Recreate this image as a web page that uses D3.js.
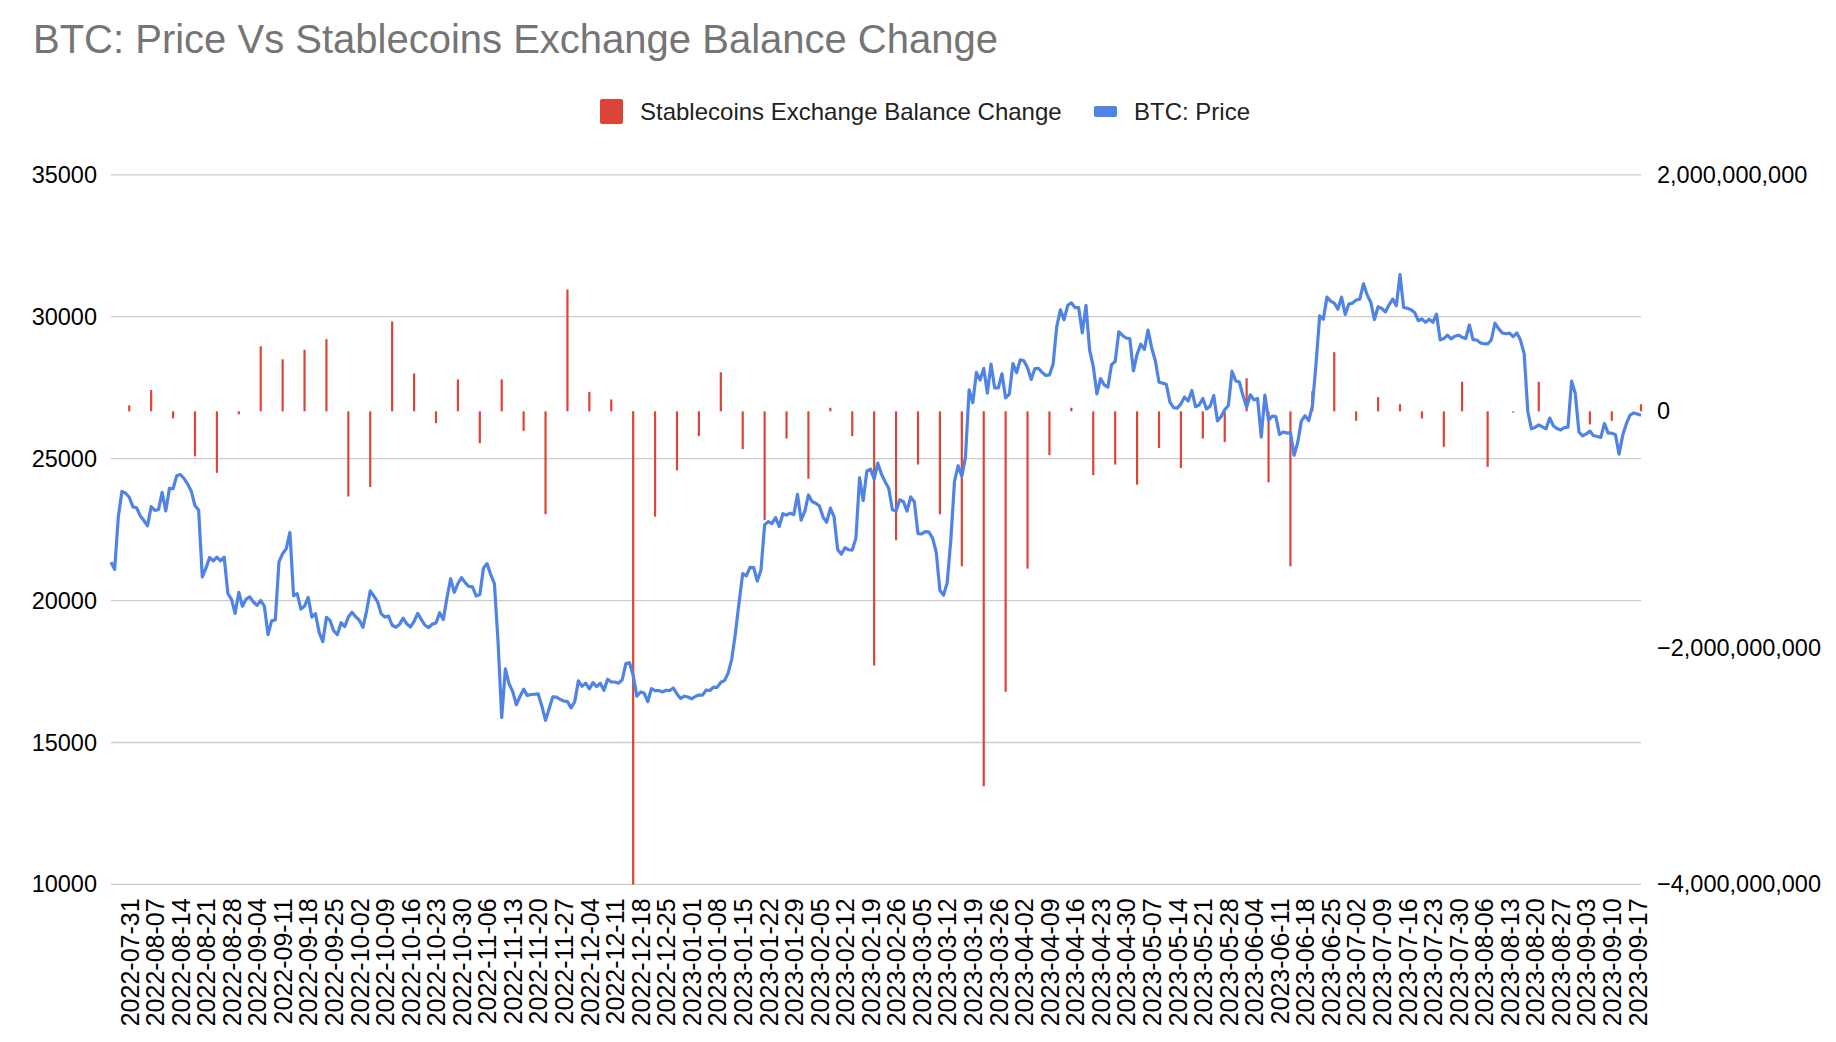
<!DOCTYPE html>
<html><head><meta charset="utf-8">
<script src="https://cdn.jsdelivr.net/npm/d3@7"></script>
<style>body{margin:0;background:#fff;font-family:"Liberation Sans",Arial,sans-serif}</style>
</head><body><svg id="c" width="1836" height="1042"></svg>
<script>
const priceStart = "2022-07-26";
const prices = [21350,21100,22950,23850,23780,23640,23300,23270,22990,22820,22630,23310,23180,23200,23810,23160,23950,23940,24400,24440,24300,24100,23850,23340,23190,20830,21140,21520,21400,21530,21400,21530,20250,20040,19550,20290,19800,20050,20130,19950,19830,20000,19800,18800,19290,19320,21360,21650,21830,22400,20170,20240,19700,19800,20110,19420,19540,18880,18550,19410,19300,18930,18800,19220,19080,19420,19590,19430,19310,19060,19630,20340,20160,19960,19530,19420,19450,19130,19060,19160,19380,19180,19070,19270,19550,19330,19130,19050,19170,19210,19570,19330,20090,20770,20290,20600,20810,20630,20500,20480,20160,20210,21150,21300,20910,20600,18540,15880,17590,17070,16800,16330,16620,16880,16660,16690,16700,16710,16280,15780,16200,16610,16600,16520,16460,16440,16220,16440,17170,16980,17090,16890,17110,16970,17090,16840,17230,17130,17130,17090,17210,17780,17810,17360,16630,16780,16740,16440,16900,16830,16830,16780,16840,16830,16920,16710,16550,16630,16600,16540,16620,16670,16670,16850,16830,16950,16940,17120,17180,17440,17940,18850,19930,20950,20870,21170,21160,20690,21080,22670,22780,22710,22920,22610,23060,23010,23080,23030,23740,22830,23140,23720,23490,23430,23330,22940,22760,23260,22960,21800,21630,21860,21790,21780,22200,24330,23520,24570,24630,24280,24840,24450,24190,23950,23200,23160,23550,23490,23150,23650,23480,22360,22350,22430,22410,22200,21700,20360,20190,20630,22160,24200,24750,24380,25050,27420,26970,28040,27770,28180,27310,28330,27490,27490,27990,27140,27270,28350,28030,28480,28450,28200,27790,28170,28180,28040,27930,27950,28330,29650,30240,29890,30400,30490,30320,30320,29430,30400,28820,28250,27280,27820,27600,27520,28310,28420,29470,29340,29250,29230,28090,28680,29030,28850,29530,28900,28450,27690,27660,27620,26990,26800,26780,26930,27170,27030,27400,26830,26890,27120,26750,26850,27220,26330,26480,26720,26870,28080,27740,27700,27220,26820,27250,27070,27120,25760,27240,26350,26500,26480,25850,25940,25900,25920,25120,25580,26330,26510,26340,26850,28330,30030,29910,30690,30550,30480,30270,30690,30080,30450,30480,30590,30620,31160,30770,30510,29900,30350,30290,30170,30420,30620,30390,31480,30330,30300,30250,30150,29860,29920,29800,29910,29800,30090,29180,29230,29350,29220,29310,29350,29280,29230,29710,29190,29180,29080,29050,29040,29180,29770,29580,29430,29400,29420,29300,29430,29170,28700,26660,26050,26100,26190,26120,26050,26430,26160,26060,26010,26090,26110,27730,27300,25940,25800,25870,25970,25810,25780,25750,26240,25900,25900,25840,25160,25830,26230,26530,26610,26570,26530];
const barDates = ["2022-07-31","2022-08-06","2022-08-12","2022-08-18","2022-08-24","2022-08-30","2022-09-05","2022-09-11","2022-09-17","2022-09-23","2022-09-29","2022-10-05","2022-10-11","2022-10-17","2022-10-23","2022-10-29","2022-11-04","2022-11-10","2022-11-16","2022-11-22","2022-11-28","2022-12-04","2022-12-10","2022-12-16","2022-12-22","2022-12-28","2023-01-03","2023-01-09","2023-01-15","2023-01-21","2023-01-27","2023-02-02","2023-02-08","2023-02-14","2023-02-20","2023-02-26","2023-03-04","2023-03-10","2023-03-16","2023-03-22","2023-03-28","2023-04-03","2023-04-09","2023-04-15","2023-04-21","2023-04-27","2023-05-03","2023-05-09","2023-05-15","2023-05-21","2023-05-27","2023-06-02","2023-06-08","2023-06-14","2023-06-20","2023-06-26","2023-07-02","2023-07-08","2023-07-14","2023-07-20","2023-07-26","2023-07-31","2023-08-07","2023-08-14","2023-08-21","2023-09-04","2023-09-10","2023-09-18"];
const barValues = [0.05,0.18,-0.06,-0.38,-0.52,-0.025,0.55,0.44,0.52,0.61,-0.72,-0.64,0.76,0.32,-0.10,0.27,-0.27,0.27,-0.165,-0.87,1.03,0.165,0.10,-4.0,-0.89,-0.50,-0.21,0.33,-0.32,-0.92,-0.23,-0.57,0.03,-0.21,-2.15,-1.09,-0.45,-0.87,-1.31,-3.17,-2.37,-1.33,-0.37,0.03,-0.54,-0.45,-0.62,-0.31,-0.48,-0.23,-0.26,0.28,-0.60,-1.31,0.17,0.50,-0.08,0.12,0.06,-0.06,-0.30,0.25,-0.47,-0.01,0.25,-0.11,-0.08,0.06].map(v=>v*1e9);
const leftTicks = [10000,15000,20000,25000,30000,35000];
const rightTicks = [-4e9,-2e9,0,2e9];
const labelStart = "2022-07-31", labelEnd = "2023-09-17";

const svg = d3.select("#c");
const P = d3.timeParse("%Y-%m-%d"), F = d3.timeFormat("%Y-%m-%d");
const L=111,R=1641,T=174.8,B=884.4;
const x = d3.scaleTime().domain([P("2022-07-26"),P("2023-09-18")]).range([L,R]);
const yL = d3.scaleLinear().domain([10000,35000]).range([B,T]);
const yR = d3.scaleLinear().domain([-4e9,2e9]).range([B,T]);

svg.append("text").attr("x",33).attr("y",53).attr("font-size",40).attr("fill","#757575").text("BTC: Price Vs Stablecoins Exchange Balance Change");

svg.append("g").selectAll("line").data(leftTicks).join("line")
 .attr("x1",L).attr("x2",R).attr("y1",d=>yL(d)).attr("y2",d=>yL(d)).attr("stroke","#cccccc").attr("stroke-width",1.3);
const axL = svg.append("g").attr("transform",`translate(${L-11},0)`).call(d3.axisLeft(yL).tickValues(leftTicks).tickSize(0).tickFormat(d3.format("d")));
const axR = svg.append("g").attr("transform",`translate(${R+13},0)`).call(d3.axisRight(yR).tickValues(rightTicks).tickSize(0).tickFormat(d3.format(",")));
[axL,axR].forEach(a=>{a.select(".domain").remove();a.selectAll("text").attr("font-size",23.5).attr("fill","#000").attr("font-family","Liberation Sans, Arial");});

svg.append("g").selectAll("line").data(barDates.map((d,i)=>({d:P(d),v:barValues[i]}))).join("line")
 .attr("x1",d=>x(d.d)).attr("x2",d=>x(d.d)).attr("y1",yR(0)).attr("y2",d=>Math.min(B,yR(d.v)))
 .attr("stroke","#db4437").attr("stroke-width",2.2);

const s = P(priceStart);
const pts = prices.map((v,i)=>({d:d3.timeDay.offset(s,i),v}));
svg.append("path").datum(pts).attr("fill","none").attr("stroke","#4f83e6").attr("stroke-width",3.2).attr("stroke-linejoin","round")
 .attr("d",d3.line().x(d=>x(d.d)).y(d=>yL(d.v)));

const labs = d3.timeDay.range(P(labelStart), d3.timeDay.offset(P(labelEnd),1), 7);
const ax = svg.append("g").attr("transform",`translate(0,${B+13})`).call(d3.axisBottom(x).tickValues(labs).tickSize(0).tickFormat(F));
ax.select(".domain").remove();
ax.selectAll("text").attr("font-size",25).attr("fill","#000").attr("font-family","Liberation Sans, Arial")
 .attr("transform","rotate(-90)").attr("text-anchor","end").attr("dy","0.35em").attr("x",-1).attr("y",0);

const lg = svg.append("g").attr("font-size",24).attr("fill","#222");
lg.append("rect").attr("x",600).attr("y",99).attr("width",23).attr("height",25).attr("fill","#db4437").attr("rx",2);
lg.append("text").attr("x",640).attr("y",120).text("Stablecoins Exchange Balance Change");
lg.append("rect").attr("x",1094).attr("y",106).attr("width",23).attr("height",11).attr("fill","#4f83e6").attr("rx",2);
lg.append("text").attr("x",1134).attr("y",120).text("BTC: Price");
</script></body></html>
